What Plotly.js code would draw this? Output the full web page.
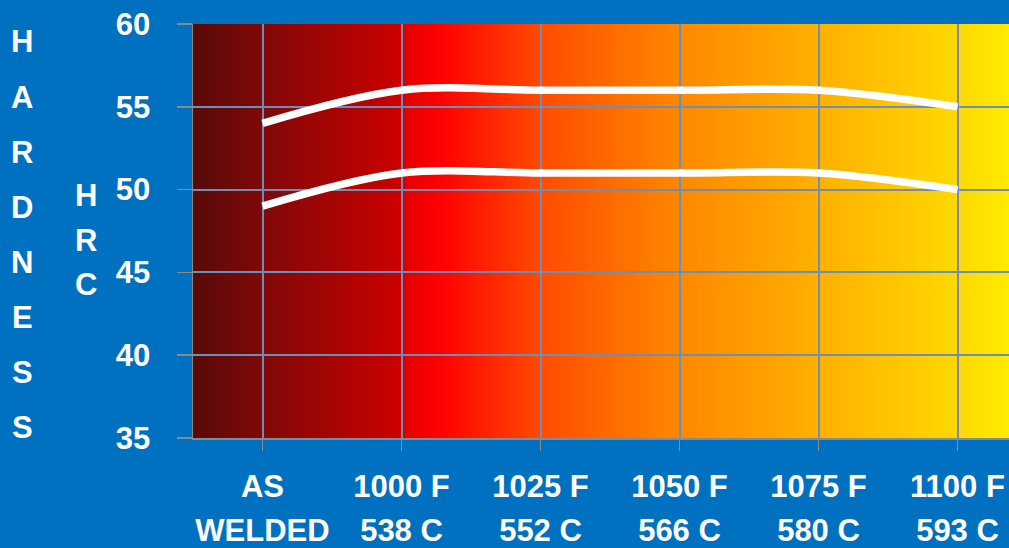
<!DOCTYPE html>
<html>
<head>
<meta charset="utf-8">
<script src="https://cdn.plot.ly/plotly-3.0.1.min.js"></script>
<style>html,body{margin:0;padding:0;background:#0070C0;}#chart{width:1009px;height:548px;}</style>
</head>
<body>
<div id="chart"></div>
<script>
// ---- data ----
const categories = [0, 1, 2, 3, 4, 5];
const tickRow1 = ["AS", "1000 F", "1025 F", "1050 F", "1075 F", "1100 F"];
const tickRow2 = ["WELDED", "538 C", "552 C", "566 C", "580 C", "593 C"];
const upperHRC = [54, 56, 56, 56, 56, 55];
const lowerHRC = [49, 51, 51, 51, 51, 50];
const yTicks = [35, 40, 45, 50, 55, 60];
const titleMain = "HARDNESS";
const titleSub = "HRC";

// ---- style ----
const W = 1009, H = 548;
const M = {l: 193, r: 0, t: 24, b: 110};
const plotW = W - M.l - M.r, plotH = H - M.t - M.b;
const catStep = 139;
const xRange = [-0.5, -0.5 + plotW / catStep];
const FONT = "Liberation Sans, Arial, sans-serif";
const gridC = "#6a8fbf";
const axisC = "#8a8a8a";

const grad = "<svg xmlns='http://www.w3.org/2000/svg' width='100' height='100' preserveAspectRatio='none'>" +
  "<defs><linearGradient id='g' x1='0' y1='0' x2='1' y2='0'>" +
  "<stop offset='0' stop-color='#580a0a'/>" +
  "<stop offset='0.085' stop-color='#800808'/>" +
  "<stop offset='0.254' stop-color='#cc0000'/>" +
  "<stop offset='0.262' stop-color='#e60000'/>" +
  "<stop offset='0.303' stop-color='#ff0000'/>" +
  "<stop offset='0.425' stop-color='#ff4a00'/>" +
  "<stop offset='0.5' stop-color='#ff6600'/>" +
  "<stop offset='0.597' stop-color='#ff8800'/>" +
  "<stop offset='0.766' stop-color='#ffb000'/>" +
  "<stop offset='0.936' stop-color='#ffd800'/>" +
  "<stop offset='1' stop-color='#ffeb00'/>" +
  "</linearGradient></defs><rect width='100' height='100' fill='url(#g)'/></svg>";
const gradURI = "data:image/svg+xml;charset=utf-8," + encodeURIComponent(grad);

const lineStyle = {color: "#ffffff", width: 7.5, shape: "spline", smoothing: 1};
const traces = [
  {x: categories, y: upperHRC, type: "scatter", mode: "lines", line: lineStyle, hoverinfo: "skip", xaxis: "x", yaxis: "y"},
  {x: categories, y: lowerHRC, type: "scatter", mode: "lines", line: lineStyle, hoverinfo: "skip", xaxis: "x2", yaxis: "y"}
];

const tickFont = {family: FONT, size: 31, color: "#ffffff", weight: "bold"};
const px2x = p => (p - M.l) / plotW;
const px2y = p => (H - M.b - p) / plotH;
const annotations = [];
titleMain.split("").forEach((ch, i) => {
  annotations.push({text: ch, xref: "paper", yref: "paper", x: px2x(22), y: px2y(42 + 55.1 * i),
    xanchor: "center", yanchor: "middle", showarrow: false, font: tickFont});
});
titleSub.split("").forEach((ch, i) => {
  annotations.push({text: ch, xref: "paper", yref: "paper", x: px2x(86), y: px2y(196 + 44 * i),
    xanchor: "center", yanchor: "middle", showarrow: false, font: tickFont});
});

const layout = {
  width: W, height: H,
  margin: M,
  paper_bgcolor: "#0070C0",
  plot_bgcolor: "rgba(0,0,0,0)",
  showlegend: false,
  xaxis: {
    range: xRange, tickvals: categories, ticktext: tickRow1,
    showgrid: true, gridcolor: gridC, gridwidth: 2, zeroline: false,
    showline: true, linecolor: axisC, linewidth: 1.5,
    ticks: "outside", ticklen: 11, tickcolor: axisC, tickwidth: 1.5,
    tickfont: tickFont, ticklabelstandoff: 9, fixedrange: true
  },
  xaxis2: {
    overlaying: "x", anchor: "y", side: "bottom", matches: "x",
    range: xRange, tickvals: categories, ticktext: tickRow2,
    showgrid: false, zeroline: false, showline: false, ticks: "",
    tickfont: tickFont, ticklabelstandoff: 71, fixedrange: true
  },
  yaxis: {
    range: [35, 60], tickvals: yTicks,
    showgrid: true, gridcolor: gridC, gridwidth: 2, zeroline: false,
    showline: true, linecolor: axisC, linewidth: 1.5,
    ticks: "outside", ticklen: 15, tickcolor: axisC, tickwidth: 1.5,
    tickfont: tickFont, ticklabelstandoff: 20, fixedrange: true
  },
  images: [{source: gradURI, xref: "x", yref: "y", x: xRange[0], y: 60,
    sizex: xRange[1] - xRange[0], sizey: 25, sizing: "stretch", layer: "below",
    xanchor: "left", yanchor: "top"}],
  annotations: annotations
};

Plotly.newPlot("chart", traces, layout, {displayModeBar: false, staticPlot: true});
</script>
</body>
</html>
